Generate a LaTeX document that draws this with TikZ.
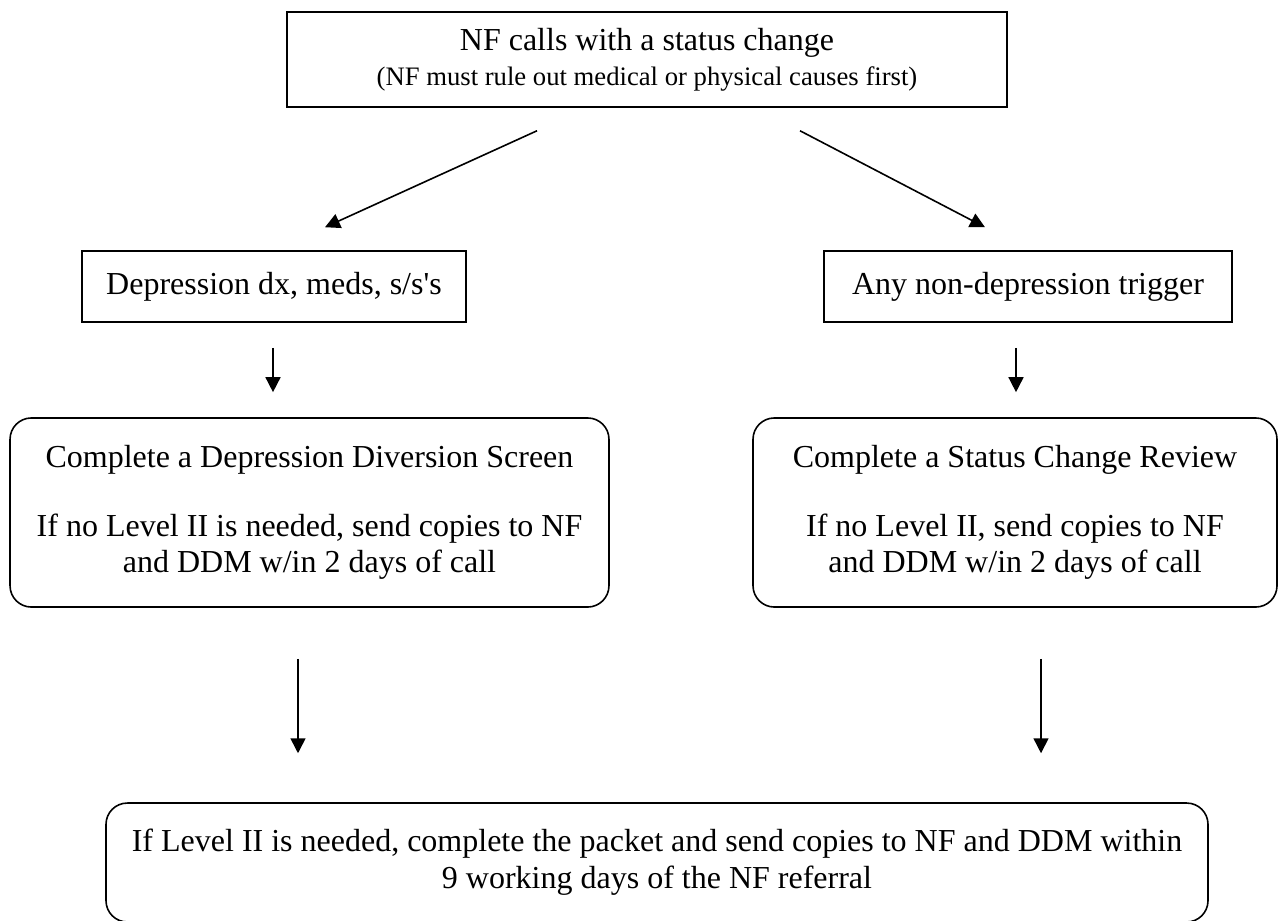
\documentclass[tikz,border=0pt]{standalone}
\usepackage{fontspec}
\setmainfont{Liberation Serif}
\usetikzlibrary{arrows.meta,calc}

\begin{document}
\begin{tikzpicture}[x=0.375pt,y=-0.375pt,>={Triangle[length=5.6pt,width=5.6pt]},line width=0.6pt,
  box/.style={draw,align=center,inner sep=0pt,font=\fontsize{12}{13.8}\selectfont},
  rbox/.style={box,rounded corners=8pt}]
\useasboundingbox (0,0) rectangle (1282,920);
\node[box,minimum width=270pt,minimum height=35.6pt] (call) at (647,59.5) {NF calls with a status change\\[-0.6pt]{\fontsize{10}{12}\selectfont (NF must rule out medical or physical causes first)}};
\node[box,minimum width=144pt,minimum height=26.6pt] (dep) at (274,286.5) {Depression dx, meds, s/s\textquotesingle s};
\node[box,minimum width=153pt,minimum height=26.6pt] (any) at (1028,286.5) {Any non-depression trigger};
\node[rbox,minimum width=224.6pt,minimum height=70.9pt] (scr) at (309.5,512.5) {Complete a Depression Diversion Screen\\[12pt]If no Level II is needed, send copies to NF\\and DDM w/in 2 days of call};
\node[rbox,minimum width=196.5pt,minimum height=70.9pt] (rev) at (1015,512.5) {Complete a Status Change Review\\[12pt]If no Level II, send copies to NF\\and DDM w/in 2 days of call};
\node[rbox,minimum width=413.25pt,minimum height=44.6pt] (fin) at (657,862.5) {If Level II is needed, complete the packet and send copies to NF and DDM within\\9 working days of the NF referral};
\path[->] ($(call.south)+(-110,23)$) edge ($(dep.north)+(51,-23)$);
\path[->] ($(call.south)+(153,23)$) edge ($(any.north)+(-43,-23)$);
\path[->] ($(dep.south)+(-1,25)$) edge ($(scr.north)+(-36.5,-25)$);
\path[->] ($(any.south)+(-12,25)$) edge ($(rev.north)+(1,-25)$);
\path[->] ($(scr.south)+(-11.5,51)$) edge ($(fin.north)+(-359,-49)$);
\path[->] ($(rev.south)+(26,51)$) edge ($(fin.north)+(384,-49)$);
\end{tikzpicture}
\end{document}
